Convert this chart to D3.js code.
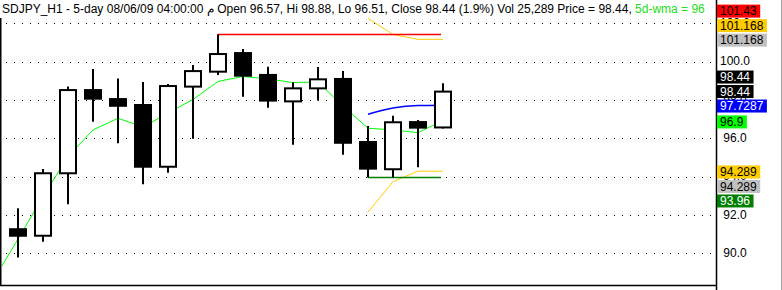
<!DOCTYPE html>
<html><head><meta charset="utf-8">
<script src="https://cdn.jsdelivr.net/npm/d3@7"></script>
<style>html,body{margin:0;padding:0;background:#fff;overflow:hidden}</style>
</head><body>
<svg id="c" width="782" height="290"></svg>
<script>
// ---- data ----
const categories = ["08/05 09:00","08/05 10:00","08/05 11:00","08/05 12:00","08/05 13:00","08/05 14:00","08/05 15:00","08/05 16:00","08/05 17:00","08/05 18:00","08/05 19:00","08/05 20:00","08/05 21:00","08/05 22:00","08/05 23:00","08/06 00:00","08/06 01:00","08/06 02:00","08/06 03:00"];
const opens  = [89.86, 91.26, 90.92, 94.18, 98.52, 98.05, 97.74, 94.52, 98.70, 99.48, 100.45, 99.31, 97.93, 98.61, 99.10, 95.81, 94.39, 96.85, 96.57];
const highs  = [91.60, 92.35, 94.40, 98.70, 99.62, 99.13, 98.94, 98.84, 99.83, 101.43, 100.66, 99.74, 98.93, 99.72, 99.51, 96.65, 97.18, 96.96, 98.88];
const lows   = [89.50, 89.78, 90.61, 92.56, 96.87, 95.74, 93.60, 94.21, 95.98, 99.31, 98.17, 97.60, 95.67, 97.97, 95.15, 93.96, 93.96, 94.49, 96.51];
const closes = [91.26, 90.92, 94.18, 98.52, 98.07, 97.70, 94.52, 98.73, 99.51, 100.40, 99.27, 97.97, 98.61, 99.08, 95.77, 94.42, 96.84, 96.56, 98.44];
const wma    = [88.56, 90.75, 92.96, 95.05, 96.44, 97.05, 96.59, 97.32, 98.03, 98.97, 99.23, 99.10, 98.91, 98.94, 97.69, 96.53, 96.44, 96.30, 96.93];
const bandIdx   = [15, 16, 17, 18];
const bandMid   = [97.26, 97.58, 97.71, 97.7287];
const bandUpper = [102.26, 101.42, 101.168, 101.168];
const bandLower = [92.15, 93.74, 94.289, 94.289];
const hiLevel = 101.43, hiFrom = 9;
const loLevel = 93.96, loFrom = 15;
const yTicks = [90, 92, 94, 96, 98, 100, 102];
const yTickLabels = ["90.0", "92.0", "94.0", "96.0", "98.0", "100.0", "102.0"];
const labelValues = [101.43, 101.168, 101.168, 98.44, 98.44, 97.7287, 96.9, 94.289, 94.289, 93.96];
const labelTexts  = ["101.43", "101.168", "101.168", "98.44", "98.44", "97.7287", "96.9", "94.289", "94.289", "93.96"];
const lastPrice = 98.44;
const titleMain = "SDJPY_H1 - 5-day 08/06/09 04:00:00 \u0645 Open 96.57, Hi 98.88, Lo 96.51, Close 98.44 (1.9%) Vol 25,289 Price = 98.44, ";
const titleWma = "5d-wma = 96";

// ---- styles ----
const labelBg = ["#ff0000", "#ffcc00", "#c0c0c0", "#000000", "#000000", "#0000ff", "#00ff00", "#ffcc00", "#c0c0c0", "#008000"];
const labelFg = ["#000", "#000", "#000", "#fff", "#fff", "#fff", "#000", "#000", "#000", "#fff"];
const FONT = "'Liberation Sans', Arial, sans-serif";

const svg = d3.select("#c");
const W = 782, H = 290;
const plotL = 1, plotR = 716, plotT = 0, plotB = 285;

const x = d3.scalePoint().domain(categories).range([-7, 443]);
const y = d3.scaleLinear().domain([88.35, 102.28]).range([285, 18]);

svg.append("rect").attr("width", W).attr("height", H).attr("fill", "#ffffff");

svg.append("defs").append("clipPath").attr("id", "pc")
  .append("rect").attr("x", plotL + 1).attr("y", plotT).attr("width", plotR - plotL - 1).attr("height", plotB - plotT);

// grid (dotted)
const grid = svg.append("g");
grid.selectAll("line").data(yTicks).join("line")
  .attr("x1", 6).attr("x2", plotR)
  .attr("y1", d => Math.round(y(d)) + 0.5).attr("y2", d => Math.round(y(d)) + 0.5)
  .attr("stroke", "#000").attr("stroke-width", 1).attr("stroke-dasharray", "1 7");

const plot = svg.append("g").attr("clip-path", "url(#pc)");
const xi = i => x(categories[i]);

// WMA line
plot.append("path").datum(wma)
  .attr("d", d3.line().x((d, i) => xi(i)).y(d => y(d)))
  .attr("fill", "none").attr("stroke", "#00ff00").attr("stroke-width", 1);

// band lines
const bandLine = vals => d3.line().x((d, i) => xi(bandIdx[i])).y(d => y(d))(vals);
plot.append("path").attr("d", bandLine(bandUpper)).attr("fill", "none").attr("stroke", "#ffcc00").attr("stroke-width", 1);
plot.append("path").attr("d", bandLine(bandLower)).attr("fill", "none").attr("stroke", "#ffcc00").attr("stroke-width", 1);
plot.append("path").attr("d", d3.line().x((d, i) => xi(bandIdx[i])).y(d => y(d)).curve(d3.curveMonotoneX)(bandMid))
  .attr("fill", "none").attr("stroke", "#0000ff").attr("stroke-width", 1.5);

// high / low level lines
plot.append("line").attr("x1", xi(hiFrom)).attr("x2", xi(categories.length - 1) - 2)
  .attr("y1", Math.round(y(hiLevel)) + 0.5).attr("y2", Math.round(y(hiLevel)) + 0.5)
  .attr("stroke", "#ff0000").attr("stroke-width", 1.5);
plot.append("line").attr("x1", xi(loFrom)).attr("x2", xi(categories.length - 1) - 2)
  .attr("y1", Math.round(y(loLevel)) + 0.5).attr("y2", Math.round(y(loLevel)) + 0.5)
  .attr("stroke", "#008000").attr("stroke-width", 1.5);

// candles
const candles = plot.append("g").selectAll("g").data(categories).join("g");
candles.append("line")
  .attr("x1", (d, i) => xi(i)).attr("x2", (d, i) => xi(i))
  .attr("y1", (d, i) => y(highs[i])).attr("y2", (d, i) => y(lows[i]))
  .attr("stroke", "#000").attr("stroke-width", 2);
candles.append("rect")
  .attr("x", (d, i) => xi(i) - 8).attr("width", 16)
  .attr("y", (d, i) => y(Math.max(opens[i], closes[i])))
  .attr("height", (d, i) => Math.max(1, Math.abs(y(opens[i]) - y(closes[i]))))
  .attr("fill", (d, i) => closes[i] >= opens[i] ? "#fff" : "#000")
  .attr("stroke", "#000").attr("stroke-width", 2);

// frame
svg.append("line").attr("x1", 0.5).attr("x2", 0.5).attr("y1", 18).attr("y2", plotB).attr("stroke", "#000").attr("stroke-width", 2);
svg.append("line").attr("x1", 0).attr("x2", plotR).attr("y1", plotB + 0.5).attr("y2", plotB + 0.5).attr("stroke", "#000").attr("stroke-width", 1.5);
svg.append("line").attr("x1", plotR + 0.5).attr("x2", plotR + 0.5).attr("y1", 0).attr("y2", H).attr("stroke", "#000").attr("stroke-width", 1.5);
svg.append("line").attr("x1", W - 0.5).attr("x2", W - 0.5).attr("y1", 0).attr("y2", H).attr("stroke", "#a0a0a0").attr("stroke-width", 1);

// axis tick labels
const ax = svg.append("g").attr("font-family", FONT).attr("font-size", 12);
ax.selectAll("text").data(yTicks).join("text")
  .attr("x", 735).attr("y", d => y(d) + 3.5).attr("text-anchor", "middle")
  .attr("fill", "#000")
  .text((d, i) => yTickLabels[i]);

// price labels with simple collision layout
const LH = 13, GAP = 1.5;
const items = labelValues.map((v, i) => ({ i, v, nat: y(v) + 0.8 - LH / 2 }));
const down = items.filter(d => d.v < lastPrice).sort((a, b) => b.v - a.v || a.i - b.i);
const up = items.filter(d => d.v >= lastPrice).sort((a, b) => a.v - b.v || b.i - a.i);
let prevBottom = -Infinity;
down.forEach(d => { d.top = Math.max(d.nat, prevBottom + GAP); prevBottom = d.top + LH; });
let prevTop = down.length ? down[0].top : Infinity;
up.forEach(d => { d.top = Math.min(d.nat, prevTop - GAP - LH); prevTop = d.top; });

const lg = svg.append("g").attr("font-family", FONT).attr("font-size", 12);
items.forEach(d => {
  const g = lg.append("g");
  const r = g.append("rect").attr("x", 717).attr("y", d.top).attr("height", LH).attr("fill", labelBg[d.i]);
  const t = g.append("text").attr("x", 720).attr("y", d.top + 10.8).attr("fill", labelFg[d.i]).text(labelTexts[d.i]);
  r.attr("width", t.node().getComputedTextLength() + 6.5);
});

// title
const title = svg.append("text").attr("x", 2).attr("y", 13)
  .attr("font-family", FONT).attr("font-size", 12).attr("fill", "#000");
title.append("tspan").text(titleMain);
title.append("tspan").attr("fill", "#22dd22").text(titleWma);
</script>
</body></html>
